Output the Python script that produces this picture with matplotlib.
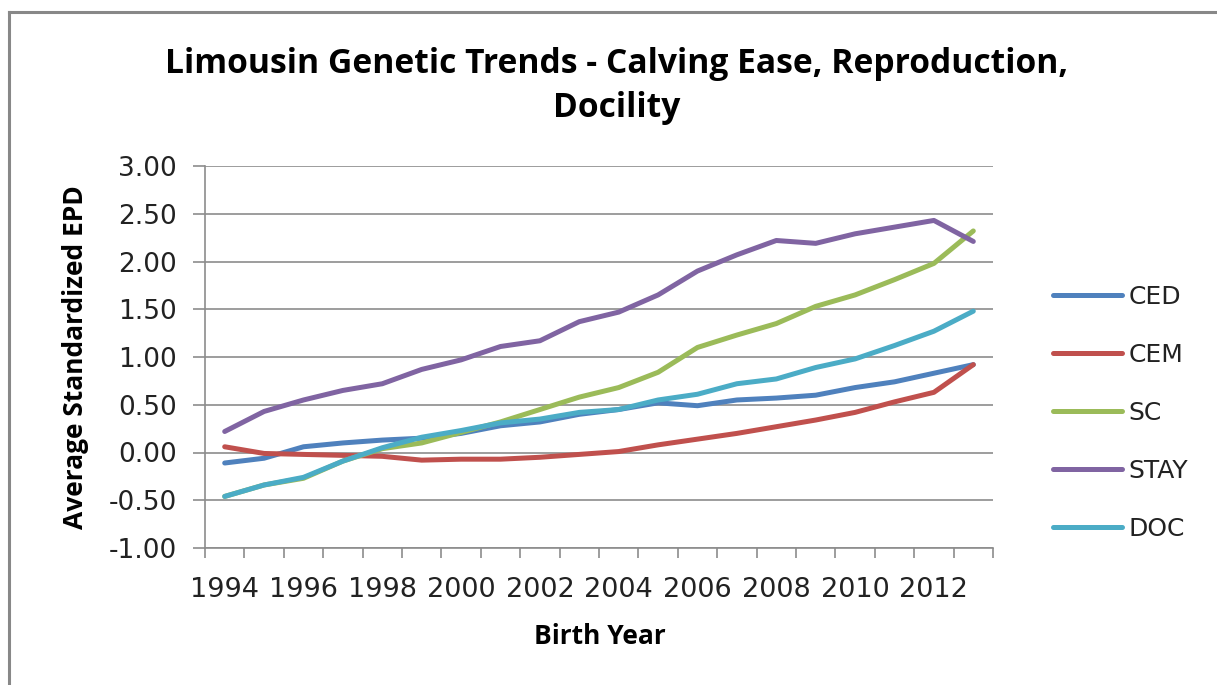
import matplotlib
matplotlib.use("Agg")
import matplotlib.pyplot as plt
from matplotlib.lines import Line2D
import numpy as np

years = list(range(1994, 2014))
CED = [-0.11, -0.06, 0.06, 0.10, 0.13, 0.15, 0.20, 0.28, 0.32, 0.40,
       0.45, 0.52, 0.49, 0.55, 0.57, 0.60, 0.68, 0.74, 0.83, 0.92]
CEM = [0.06, -0.01, -0.02, -0.03, -0.04, -0.08, -0.07, -0.07, -0.05, -0.02,
       0.01, 0.08, 0.14, 0.20, 0.27, 0.34, 0.42, 0.53, 0.63, 0.92]
SC = [-0.46, -0.34, -0.27, -0.09, 0.04, 0.10, 0.21, 0.32, 0.45, 0.58,
      0.68, 0.84, 1.10, 1.23, 1.35, 1.53, 1.65, 1.81, 1.98, 2.32]
STAY = [0.22, 0.43, 0.55, 0.65, 0.72, 0.87, 0.97, 1.11, 1.17, 1.37,
        1.47, 1.65, 1.90, 2.07, 2.22, 2.19, 2.29, 2.36, 2.43, 2.21]
DOC = [-0.46, -0.34, -0.26, -0.09, 0.05, 0.16, 0.23, 0.31, 0.35, 0.42,
       0.45, 0.55, 0.61, 0.72, 0.77, 0.89, 0.98, 1.12, 1.27, 1.48]

series_names = ["CED", "CEM", "SC", "STAY", "DOC"]
series_values = [CED, CEM, SC, STAY, DOC]
series_colors = ["#4F81BD", "#C0504D", "#9BBB59", "#8064A2", "#4BACC6"]
yticks = [-1.0, -0.5, 0.0, 0.5, 1.0, 1.5, 2.0, 2.5, 3.0]

title = "Limousin Genetic Trends - Calving Ease, Reproduction,\nDocility"
xlabel = "Birth Year"
ylabel = "Average Standardized EPD"

plt.rcParams['font.family'] = ['Open Sans', 'DejaVu Sans']
TICKFONT = ['DejaVu Sans']

W, H = 1217, 685
fig = plt.figure(figsize=(W / 100, H / 100), dpi=100)
fig.patch.set_facecolor("white")

ax = fig.add_axes([205 / W, 1 - 548 / H, (993 - 205) / W, (548 - 166) / H])
x = np.arange(len(years))
for name, vals, col in zip(series_names, series_values, series_colors):
    ax.plot(x, vals, color=col, lw=3.6, label=name,
            solid_capstyle="round", solid_joinstyle="round")

ax.set_xlim(-0.5, len(years) - 0.5)
ax.set_ylim(-1.0, 3.0)
ax.set_yticks(yticks)
ax.set_yticklabels([f"{v:.2f}" for v in yticks], family=TICKFONT, fontsize=19,
                   color="#222222")
ax.yaxis.grid(True, color="#8C8C8C", lw=1.2)
ax.set_axisbelow(True)

ax.set_xticks(np.arange(-0.5, len(years), 1.0))
ax.set_xticklabels([])
ax.set_xticks(x[::2], minor=True)
ax.set_xticklabels([str(y) for y in years[::2]], minor=True, family=TICKFONT,
                   fontsize=19.5, color="#222222")
ax.tick_params(axis="x", which="major", length=7, color="#8C8C8C", width=1.2)
ax.tick_params(axis="x", which="minor", length=0, pad=21)
ax.tick_params(axis="y", length=8.5, color="#8C8C8C", width=1.2, pad=12)

for s in ["top", "right"]:
    ax.spines[s].set_visible(False)
for s in ["left", "bottom"]:
    ax.spines[s].set_color("#8C8C8C")
    ax.spines[s].set_linewidth(1.2)

fig.text(76 / W, 1 - 357 / H, ylabel, rotation=90, ha="center", va="center",
         fontsize=19, fontweight="bold")
fig.text(600 / W, 1 - 637 / H, xlabel, ha="center", va="center",
         fontsize=19, fontweight="bold")
fig.text(617 / W, 1 - 86 / H, title, ha="center", va="center",
         fontsize=24.2, fontweight="bold", linespacing=1.4)

leg = fig.legend(loc="center left", bbox_to_anchor=(1053 / W, 1 - 413 / H),
                 frameon=False, prop={"family": TICKFONT, "size": 18},
                 handlelength=2.76, handletextpad=0.25, labelspacing=1.36,
                 borderpad=0, borderaxespad=0)
for t in leg.get_texts():
    t.set_color("#222222")

fig.add_artist(Line2D([8.5 / W, 8.5 / W], [0, 1 - 11.5 / H],
                      transform=fig.transFigure, color="#888888", lw=2.2))
fig.add_artist(Line2D([8.5 / W, 1], [1 - 11.5 / H, 1 - 11.5 / H],
                      transform=fig.transFigure, color="#888888", lw=2.2))

fig.savefig("out.png", dpi=100)
